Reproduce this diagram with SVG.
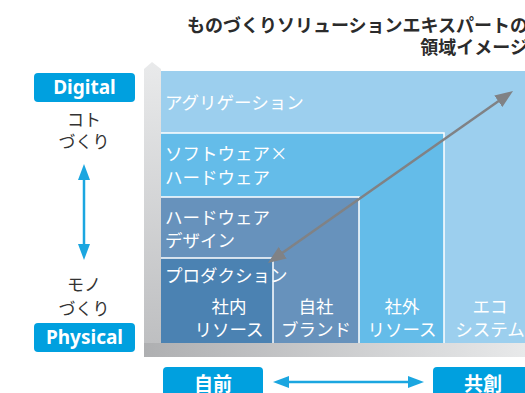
<svg xmlns="http://www.w3.org/2000/svg" width="525" height="393" viewBox="0 0 525 393">
<defs>
<linearGradient id="gv" x1="0" y1="0" x2="0" y2="1"><stop offset="0" stop-color="#e9eaeb"/><stop offset="1" stop-color="#bcbdbf"/></linearGradient>
<linearGradient id="gh" x1="0" y1="0" x2="1" y2="0"><stop offset="0" stop-color="#aeafb1"/><stop offset="1" stop-color="#e8e9ea"/></linearGradient>
<marker id="ag" markerUnits="userSpaceOnUse" markerWidth="18" markerHeight="14" refX="10" refY="7" orient="auto-start-reverse"><path d="M0,0 L18,7 L0,14 z" fill="#808285"/></marker>
<marker id="ab" markerUnits="userSpaceOnUse" markerWidth="16" markerHeight="12" refX="8" refY="6" orient="auto-start-reverse"><path d="M0,0 L16,6 L0,12 z" fill="#1ba6e0"/></marker>
<style>
.jp{font-family:"Noto Sans CJK JP","Noto Sans",sans-serif}
.title{font-size:18px;font-weight:700;fill:#2b2b2b}
.lbl{font-size:17.5px;fill:#ffffff}
.dark{font-size:17px;fill:#333333}
.badge{fill:#00a0df}
.bt{font-family:"Noto Sans",sans-serif;font-size:19px;font-weight:700;fill:#ffffff}
.bj{font-size:19px;font-weight:700;fill:#ffffff}
.sep{stroke:#ffffff;stroke-width:1.5;fill:none}
</style>
</defs>
<g id="title" class="jp title" text-anchor="end">
<text x="528" y="32">ものづくりソリューションエキスパートの</text>
<text x="528" y="54">領域イメージ</text>
</g>
<g id="frame">
<polygon points="144,69 152,62 161,69 161,357 144,357" fill="url(#gv)"/>
<rect x="144" y="343" width="381" height="14" fill="url(#gh)"/>
</g>
<g id="aggregation">
<rect x="161" y="71" width="364" height="272" fill="#9ccfee"/>
<text class="jp lbl" x="165" y="109">アグリゲーション</text>
</g>
<g id="software-hardware">
<rect x="161" y="133" width="283" height="210" fill="#64bce9"/>
<path class="sep" d="M161,133 H444 V343"/>
<text class="jp lbl" x="165" y="160">ソフトウェア×</text>
<text class="jp lbl" x="165" y="184">ハードウェア</text>
</g>
<g id="hardware-design">
<rect x="161" y="197" width="198" height="146" fill="#6792bc"/>
<path class="sep" d="M161,197 H359 V343"/>
<text class="jp lbl" x="165" y="224">ハードウェア</text>
<text class="jp lbl" x="165" y="247">デザイン</text>
</g>
<g id="production">
<rect x="161" y="258" width="112" height="85" fill="#4b82b2"/>
<path class="sep" d="M161,258 H273 V343"/>
<text class="jp lbl" x="165" y="282">プロダクション</text>
</g>
<g id="columns" class="jp lbl" text-anchor="middle">
<text x="229" y="313">社内</text>
<text x="229" y="336">リソース</text>
<text x="316" y="313">自社</text>
<text x="316" y="336">ブランド</text>
<text x="402" y="313">社外</text>
<text x="402" y="336">リソース</text>
<text x="490" y="313">エコ</text>
<text x="490" y="336">システム</text>
</g>
<g id="digital">
<rect class="badge" x="34" y="73" width="101" height="29" rx="4"/>
<text class="bt" x="84.5" y="94" text-anchor="middle">Digital</text>
<text class="jp dark" x="84" y="126" text-anchor="middle">コト</text>
<text class="jp dark" x="84" y="148" text-anchor="middle">づくり</text>
</g>
<g id="physical">
<text class="jp dark" x="84" y="291" text-anchor="middle">モノ</text>
<text class="jp dark" x="84" y="315" text-anchor="middle">づくり</text>
<rect class="badge" x="34" y="323" width="101" height="29" rx="4"/>
<text class="bt" x="84.5" y="344" text-anchor="middle">Physical</text>
</g>
<g id="jimae">
<rect class="badge" x="163" y="367" width="100" height="34" rx="4"/>
<text class="jp bj" x="213" y="391" text-anchor="middle">自前</text>
</g>
<g id="kyoso">
<rect class="badge" x="433" y="367" width="100" height="34" rx="4"/>
<text class="jp bj" x="483" y="391" text-anchor="middle">共創</text>
</g>
<g id="connectors">
<line x1="274.5" y1="258.4" x2="506.5" y2="95.6" stroke="#808285" stroke-width="2.5" marker-start="url(#ag)" marker-end="url(#ag)"/>
<line x1="84" y1="172" x2="84" y2="252" stroke="#1ba6e0" stroke-width="2.5" marker-start="url(#ab)" marker-end="url(#ab)"/>
<line x1="281" y1="382" x2="416" y2="382" stroke="#1ba6e0" stroke-width="2.5" marker-start="url(#ab)" marker-end="url(#ab)"/>
</g>
</svg>
